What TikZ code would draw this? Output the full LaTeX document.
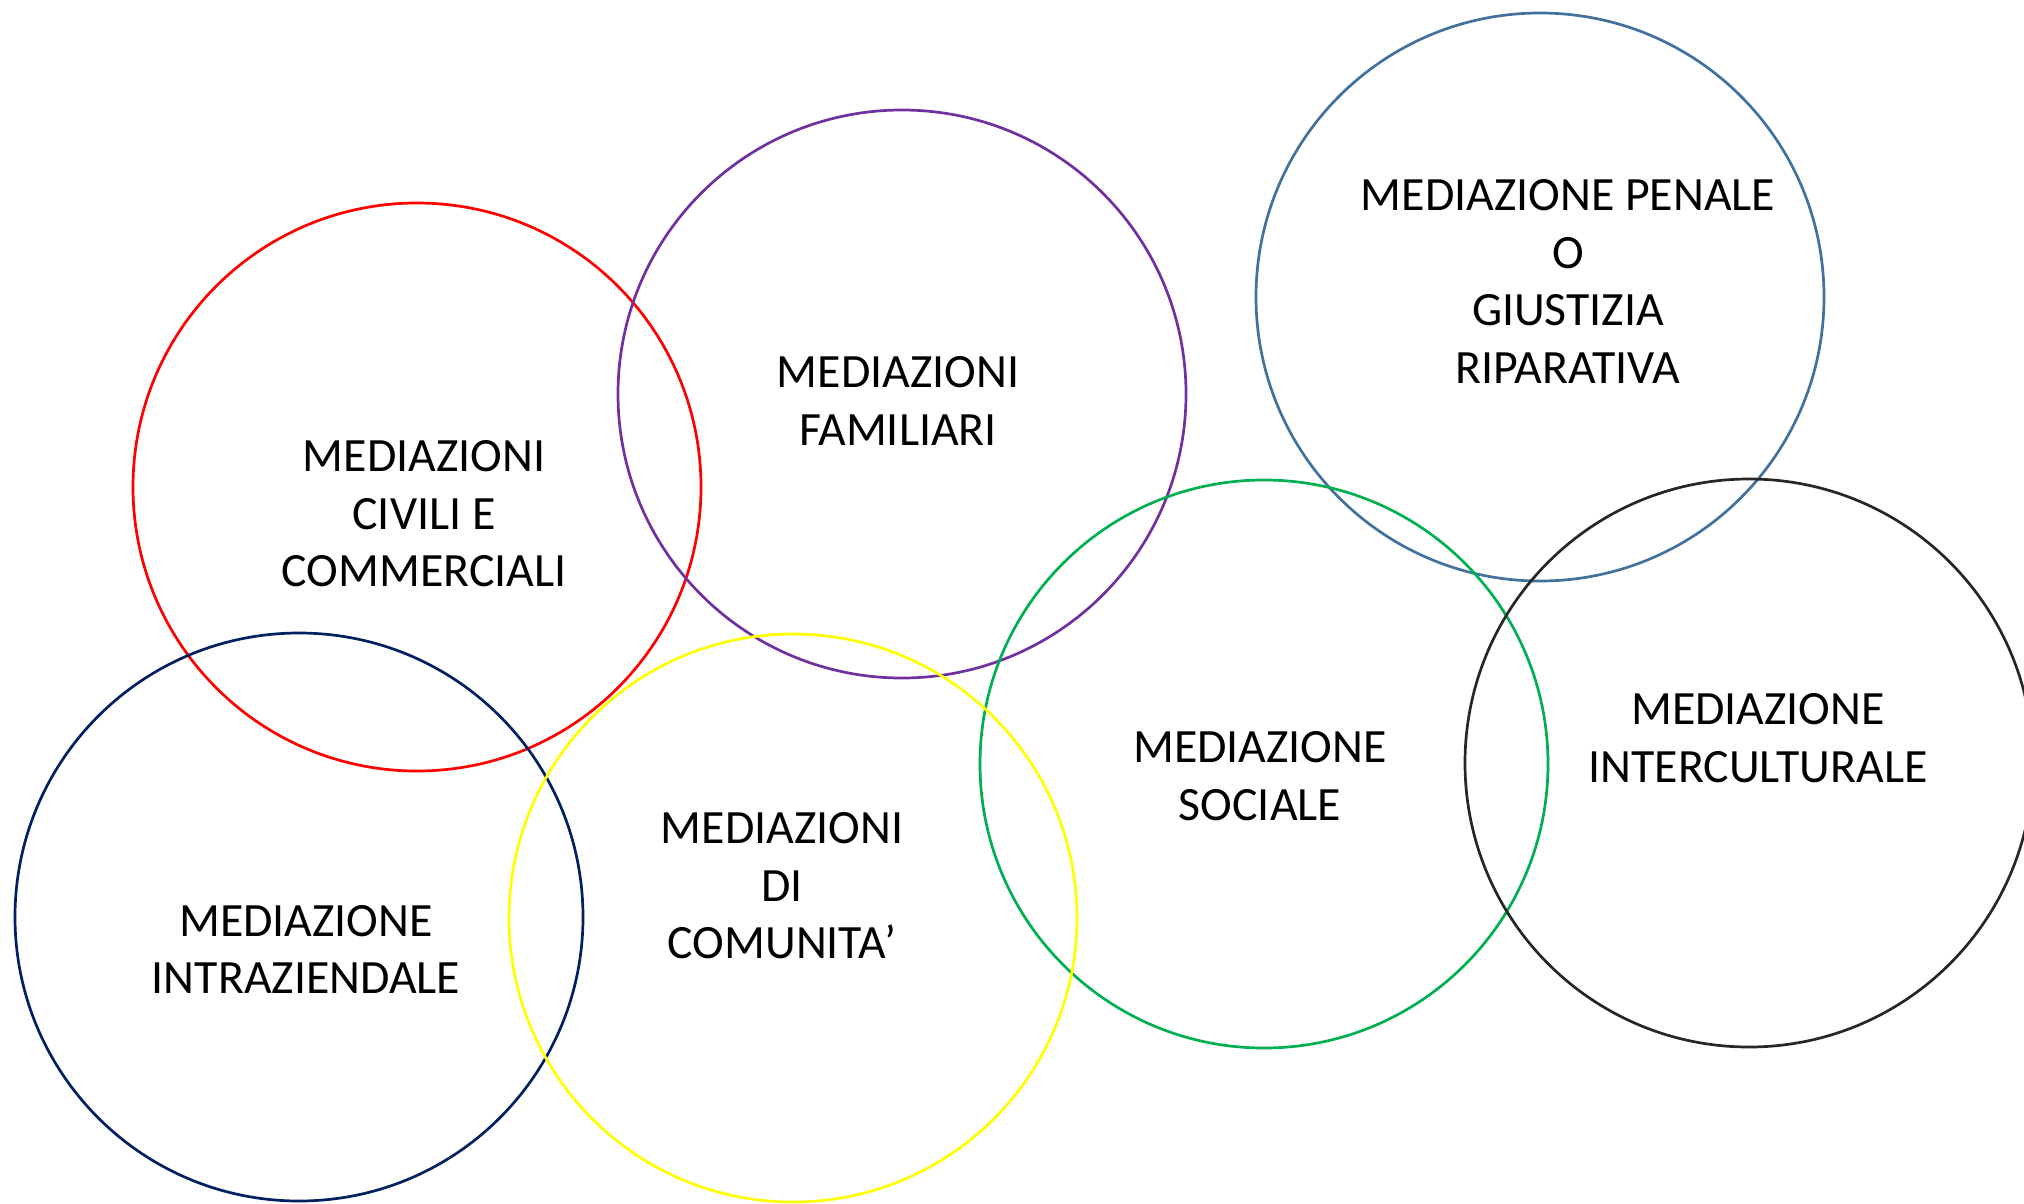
\documentclass[tikz,border=0pt]{standalone}
\usepackage{fontspec}
\setmainfont{Carlito}
\definecolor{cred}{HTML}{FF0000}
\definecolor{cpurple}{HTML}{7030A0}
\definecolor{csteel}{HTML}{41719C}
\definecolor{cgreen}{HTML}{00B050}
\definecolor{cblack}{HTML}{262626}
\definecolor{cnavy}{HTML}{002060}
\definecolor{cyellow}{HTML}{FFFF00}
\tikzset{
  ring/.style={circle, draw=#1, line width=2.7pt, minimum size=568pt, inner sep=0pt},
  lbl/.style={align=center, inner sep=0pt, font=\fontsize{47.8}{57.5}\selectfont, text=black}
}
\begin{document}
\begin{tikzpicture}[x=1pt,y=-1pt]
\useasboundingbox (0,0) rectangle (2024,1203);
\node[ring=cred]    (civ) at (417,487) {};
\node[ring=cpurple] (fam) at (902,394) {};
\node[ring=csteel]  (pen) at (1540,297) {};
\node[ring=cgreen]  (soc) at (1264,764) {};
\node[ring=cblack]  (int) at (1749,763) {};
\node[ring=cnavy]   (azi) at (299,917) {};
\node[ring=cyellow] (com) at (793,918) {};
\node[lbl] (tciv) at (424,514) {MEDIAZIONI\\CIVILI E\\COMMERCIALI};
\node[lbl] (tfam) at (898,401) {MEDIAZIONI\\FAMILIARI};
\node[lbl] (tpen) at (1568,281.5) {MEDIAZIONE PENALE\\O\\GIUSTIZIA\\RIPARATIVA};
\node[lbl] (tsoc) at (1260,776) {MEDIAZIONE\\SOCIALE};
\node[lbl] (tint) at (1758,738) {MEDIAZIONE\\INTERCULTURALE};
\node[lbl] (tazi) at (306,949.5) {MEDIAZIONE\\INTRAZIENDALE};
\node[lbl] (tcom) at (782,886) {MEDIAZIONI\\DI\\COMUNITA’};
\end{tikzpicture}
\end{document}
